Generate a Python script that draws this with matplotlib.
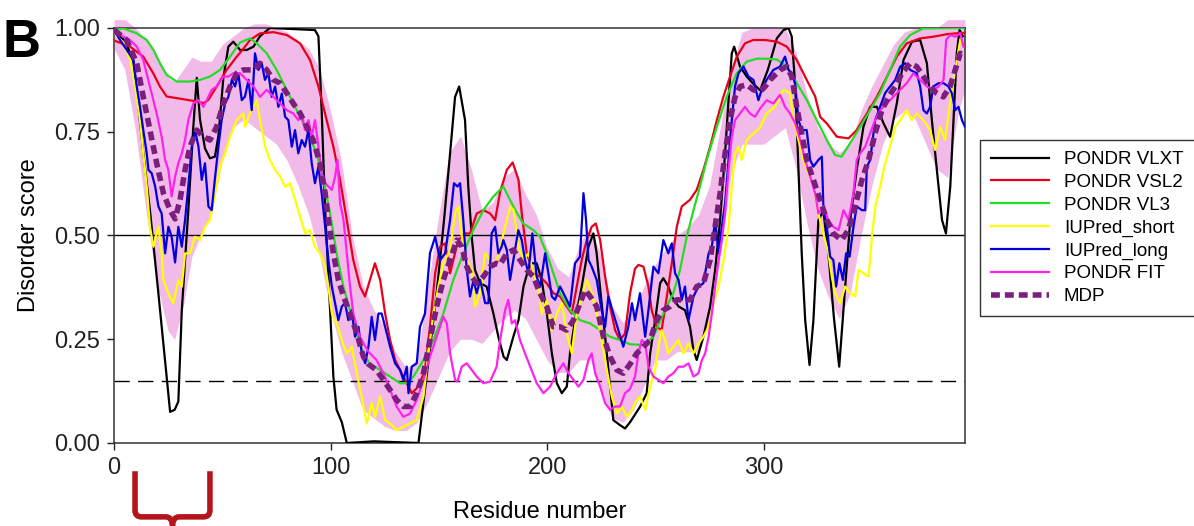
import numpy as np
import matplotlib.pyplot as plt
from matplotlib.path import Path
from matplotlib.patches import PathPatch
from matplotlib.transforms import blended_transform_factory

plt.rcParams['font.family'] = ['Liberation Sans', 'DejaVu Sans']

# (residue, score) points
vlxt = [(0,0.99),(5,0.97),(9,0.92),(13.5,0.70),(16.6,0.56),(20.5,0.36),(24.3,0.16),(25.9,0.075),(28,0.08),
        (29.7,0.10),(31.3,0.32),(34.3,0.56),(36.6,0.76),(38.2,0.88),(39.7,0.78),(42,0.71),(44.3,0.686),
        (46.6,0.69),(48.2,0.74),(50.5,0.88),(52.8,0.955),(55.1,0.967),(58.2,0.947),(61.3,0.947),(64.4,0.955),
        (67.4,0.98),(72,1.0),(92.8,0.995),(94.4,0.98),(95.9,0.80),(97.5,0.56),(99.8,0.32),(101.3,0.16),
        (102.8,0.08),(105.2,0.05),(107.5,0.0),(120,0.004),(140.6,0.0),(143.8,0.136),(149.3,0.377),(152.4,0.537),
        (155.2,0.698),(157.5,0.834),(159.4,0.859),(162.1,0.778),(163.6,0.618),(165.2,0.497),(166.7,0.417),
        (169.1,0.385),(172.1,0.377),(175.2,0.312),(177.5,0.256),(179.9,0.208),(181.4,0.2),(184.4,0.256),
        (186.8,0.296),(189.1,0.377),(192.1,0.433),(195.2,0.433),(197.5,0.393),(199.9,0.312),(202.2,0.216),
        (204.5,0.144),(206.8,0.12),(209.1,0.136),(210.6,0.216),(212.9,0.296),(216,0.377),(219.1,0.473),
        (221.4,0.505),(222.9,0.457),(224.4,0.377),(226.8,0.256),(229.1,0.136),(230.6,0.055),(233.7,0.043),
        (236,0.035),(238.3,0.05),(243,0.088),(246,0.12),(247.6,0.216),(249.9,0.296),(252.2,0.385),(253.7,0.397),
        (256,0.377),(257.6,0.353),(260.7,0.329),(263.7,0.32),(266,0.28),(267.6,0.224),(269.1,0.2),(272.2,0.256),
        (275.3,0.329),(277.6,0.417),(279.9,0.537),(282.2,0.698),(283.7,0.818),(285.3,0.939),(286.4,0.955),
        (289.1,0.907),(292.2,0.883),(295.3,0.865),(298.4,0.85),(302,0.9),(306.1,0.975),(309.2,0.995),
        (311.5,1.0),(313,0.979),(314.6,0.859),(316.1,0.658),(317.6,0.457),(319.2,0.296),(321.2,0.188),
        (323,0.296),(325.3,0.537),(327.6,0.56),(330,0.45),(332.5,0.30),(334.9,0.184),(337.7,0.377),(340,0.537),
        (343,0.658),(346.1,0.762),(349.2,0.81),(352.3,0.81),(355.4,0.77),(358.4,0.738),(361.5,0.818),
        (364.6,0.923),(368.5,0.967),(372.3,0.971),(375.4,0.915),(377.7,0.778),(380,0.658),(382.4,0.537),
        (384.2,0.505),(386.2,0.618),(387.7,0.778),(389.2,0.939),(390.5,0.995),(392,0.98)]

vsl2 = [(0,0.97),(7.4,0.955),(13.5,0.931),(18.2,0.89),(21.2,0.859),(24.3,0.835),(28.9,0.831),(33.6,0.827),
        (38.2,0.823),(41.3,0.819),(43.6,0.827),(47.4,0.859),(52,0.899),(56.7,0.931),(60.5,0.955),(62.8,0.971),
        (67.4,0.987),(73.6,0.99),(79.8,0.983),(85.9,0.963),(90.5,0.923),(94.4,0.859),(98.2,0.778),(101.3,0.714),
        (104.4,0.634),(107.5,0.537),(110.5,0.441),(113.6,0.377),(115.9,0.353),(118.2,0.393),(120.5,0.433),
        (122.9,0.393),(125.2,0.312),(127.5,0.248),(129.8,0.2),(132.1,0.176),(134.4,0.152),(137.5,0.12),
        (140.6,0.136),(143.6,0.176),(145.9,0.28),(148.3,0.409),(150.6,0.473),(152.9,0.481),(155.2,0.409),
        (156.7,0.441),(159,0.489),(162.1,0.505),(164.4,0.505),(167.5,0.553),(170.6,0.561),(173.7,0.553),
        (176,0.537),(178.3,0.605),(181.4,0.658),(184.1,0.676),(186.8,0.634),(188.3,0.553),(190.6,0.457),
        (193.7,0.409),(196.7,0.401),(199.8,0.385),(202.9,0.361),(206,0.353),(209,0.329),(211.4,0.312),
        (213.7,0.377),(216,0.441),(218.3,0.489),(220.6,0.521),(222.5,0.529),(224.5,0.489),(226.8,0.401),
        (229.1,0.329),(231.4,0.272),(233.7,0.248),(236,0.264),(238.3,0.36),(240.6,0.42),(242.2,0.429),
        (244.5,0.425),(246.8,0.377),(248.3,0.32),(250.6,0.28),(252.9,0.272),(255.3,0.353),(257.6,0.433),
        (259.9,0.521),(262.2,0.57),(266,0.586),(269.1,0.61),(272.2,0.658),(275.3,0.714),(278.4,0.778),
        (281.4,0.834),(284.5,0.883),(287.6,0.931),(291.4,0.963),(295.2,0.971),(300.7,0.971),(306.1,0.967),
        (310.7,0.955),(315.3,0.923),(319.9,0.875),(323.8,0.835),(326.1,0.786),(329.2,0.77),(333.8,0.738),
        (339.2,0.734),(343,0.754),(347.7,0.794),(352.3,0.834),(357,0.883),(361.5,0.931),(366.1,0.963),
        (372.3,0.975),(378.4,0.979),(384.6,0.985),(390.7,0.988),(393,0.988)]

vl3 = [(0,0.995),(4.3,0.999),(10.5,0.987),(15.1,0.971),(18.2,0.947),(21.2,0.915),(24.3,0.887),(28.9,0.871),
       (35.1,0.871),(39.7,0.875),(44.3,0.883),(49,0.899),(53.6,0.931),(58.2,0.965),(62.8,0.975),(65.9,0.963),
       (70.5,0.939),(75.1,0.899),(79.7,0.851),(84.4,0.802),(89,0.754),(93.6,0.698),(96.7,0.634),(99.8,0.553),
       (102.8,0.457),(105.9,0.377),(109,0.32),(112,0.264),(115.2,0.216),(118.2,0.19),(122.9,0.176),(127.5,0.16),
       (132.1,0.144),(135.2,0.144),(138.3,0.16),(142.9,0.2),(147.5,0.248),(152.1,0.312),(156.7,0.393),
       (161.3,0.457),(165.9,0.513),(170.6,0.561),(175.2,0.594),(179.8,0.618),(184.4,0.57),(188.9,0.529),
       (193.7,0.513),(196.7,0.497),(199.8,0.457),(202.9,0.409),(206,0.361),(210.6,0.32),(215.2,0.296),
       (219.9,0.288),(224.5,0.272),(229.1,0.256),(233.7,0.248),(238.3,0.238),(244.5,0.236),(249.1,0.256),
       (253.7,0.312),(258.3,0.361),(261.4,0.417),(264.5,0.497),(267.6,0.561),(270.6,0.618),(273.7,0.682),
       (278.4,0.762),(282.9,0.834),(287.6,0.891),(292.2,0.919),(296.9,0.926),(300.7,0.926),(306.1,0.924),
       (310.7,0.907),(315.3,0.867),(319.9,0.827),(324.5,0.778),(329.2,0.73),(333,0.694),(336,0.69),
       (339.9,0.722),(344.6,0.762),(349.2,0.802),(353.8,0.843),(358.4,0.899),(363,0.955),(367.7,0.983),
       (373.7,0.999),(393,1.0)]

iup_short = [(0,0.99),(4.3,0.963),(7.4,0.923),(9.7,0.859),(12,0.778),(13.5,0.698),(15.1,0.618),(16.6,0.521),
             (18.2,0.473),(20.5,0.521),(22,0.457),(22.8,0.393),(25.1,0.361),(27.4,0.337),(29.7,0.393),
             (31.3,0.377),(32.8,0.457),(35.1,0.457),(37.4,0.497),(39.7,0.489),(42,0.521),(44.3,0.537),
             (46.7,0.602),(49,0.666),(51.3,0.698),(53.6,0.738),(56.7,0.778),(59.7,0.794),(60.5,0.762),
             (62.1,0.786),(64.4,0.81),(65.9,0.826),(67.4,0.778),(69.8,0.714),(72,0.682),(74.4,0.658),
             (76.7,0.642),(79,0.618),(81.3,0.626),(83.6,0.586),(86,0.545),(88.3,0.505),(90.5,0.513),(92.8,0.473),
             (95.1,0.457),(97.5,0.425),(99,0.377),(100.6,0.312),(102.8,0.288),(105.2,0.248),(107.5,0.216),
             (109.8,0.232),(112.1,0.168),(114.4,0.111),(116.7,0.047),(119,0.096),(120.5,0.063),(122.9,0.112),
             (125.2,0.055),(127.5,0.047),(130.5,0.031),(133.6,0.039),(136.7,0.047),(139.8,0.055),(142.9,0.112),
             (145.2,0.216),(147.5,0.312),(149.8,0.377),(152.1,0.433),(155.2,0.465),(157.5,0.553),(159,0.57),
             (160.6,0.497),(162.9,0.441),(165.2,0.417),(166.7,0.329),(169.1,0.361),(171.4,0.457),(173.7,0.441),
             (176,0.425),(178.3,0.47),(180.6,0.521),(183,0.57),(184.5,0.561),(186.8,0.473),(189.1,0.441),
             (191.4,0.457),(193.7,0.409),(196,0.377),(197.6,0.312),(199.9,0.345),(202.2,0.272),(204.5,0.312),
             (206.8,0.337),(209.1,0.264),(211.4,0.216),(213.7,0.312),(216,0.353),(218.3,0.393),(220.6,0.361),
             (222.9,0.312),(225.2,0.248),(227.6,0.176),(229.9,0.112),(232.2,0.071),(234.5,0.088),(236.8,0.063),
             (239.2,0.08),(240.6,0.096),(242.9,0.112),(245.3,0.08),(247.6,0.136),(249.9,0.176),(251.4,0.232),
             (252.9,0.272),(254.5,0.248),(256,0.216),(258.3,0.232),(260.7,0.248),(263,0.216),(265.3,0.24),
             (267.6,0.216),(269.9,0.24),(272.2,0.256),(274.6,0.28),(276.9,0.337),(279.2,0.377),(281.5,0.441),
             (283.8,0.521),(285.3,0.618),(286.8,0.698),(288.4,0.714),(289.9,0.682),(292.2,0.73),(295.3,0.746),
             (298.4,0.76),(301.4,0.794),(305.2,0.81),(309.2,0.851),(312.2,0.843),(313.8,0.778),(316.1,0.73),
             (318.4,0.682),(320.7,0.65),(323.2,0.618),(325.3,0.553),(327.6,0.505),(329.9,0.457),(331.5,0.401),
             (333,0.361),(335.3,0.337),(337.7,0.377),(340,0.361),(342.3,0.353),(343.8,0.417),(346.1,0.409),
             (348.5,0.401),(350,0.497),(351.6,0.57),(353.8,0.618),(356.1,0.674),(358.4,0.714),(360.8,0.762),
             (363.1,0.778),(366.1,0.802),(368.4,0.778),(370.7,0.794),(373.8,0.778),(376.9,0.754),(379.2,0.706),
             (381.5,0.762),(383.8,0.73),(386.1,0.818),(388.5,0.899),(390.8,0.971)]

iup_long = [(0,0.995),(2.8,0.971),(5.9,0.947),(8.9,0.923),(10.5,0.859),(12,0.81),(13.5,0.754),(15.1,0.698),
            (15.9,0.658),(17.4,0.65),(19,0.618),(20.5,0.57),(22,0.553),(23.6,0.457),(25.1,0.521),(26.6,0.497),
            (28.2,0.435),(29.7,0.521),(31.3,0.473),(32.8,0.537),(34.3,0.618),(35.9,0.714),(37.4,0.754),
            (39,0.714),(40.5,0.634),(42,0.674),(43.6,0.57),(45.1,0.561),(46.7,0.642),(48.2,0.714),(49.7,0.778),
            (51.3,0.818),(52.8,0.834),(54.4,0.875),(55.9,0.859),(57.4,0.891),(59,0.826),(60.5,0.835),(62.1,0.875),
            (63.6,0.802),(65.1,0.939),(66.7,0.899),(68.2,0.915),(69.7,0.875),(71.3,0.891),(72.8,0.834),
            (74.4,0.859),(75.9,0.81),(77.5,0.842),(79,0.786),(80.5,0.778),(82.1,0.714),(83.6,0.754),(85.1,0.698),
            (86.7,0.73),(88.2,0.714),(89.8,0.754),(91.3,0.674),(92.8,0.626),(94.4,0.666),(95.9,0.602),
            (97.5,0.521),(99,0.441),(100.6,0.377),(102.1,0.337),(103.6,0.296),(105.2,0.329),(106.7,0.337),
            (108.2,0.296),(109.8,0.32),(111.3,0.256),(112.9,0.28),(114.4,0.216),(116,0.192),(117.5,0.232),
            (119,0.304),(120.5,0.248),(122.1,0.312),(123.6,0.312),(125.2,0.28),(127.5,0.232),(129.8,0.192),
            (132.1,0.176),(133.6,0.152),(135.2,0.184),(136,0.12),(137.5,0.184),(139.8,0.192),(141.3,0.28),
            (143.6,0.312),(145.9,0.457),(148.3,0.497),(150.6,0.441),(152.9,0.457),(155.2,0.537),(157,0.626),
            (158.6,0.618),(159.8,0.626),(161.3,0.537),(162.9,0.417),(164.4,0.353),(166,0.393),(167.5,0.361),
            (169.1,0.393),(171.4,0.337),(172.9,0.337),(174.4,0.505),(176,0.521),(177.5,0.457),(179,0.473),
            (179.8,0.489),(181.4,0.465),(182.9,0.393),(184.4,0.441),(186.7,0.513),(188.3,0.489),(189.8,0.441),
            (191.4,0.409),(193.2,0.505),(195.2,0.401),(196.8,0.377),(199.1,0.457),(200.6,0.409),(202.2,0.353),
            (203.7,0.345),(206,0.377),(208.3,0.353),(210.6,0.329),(212.9,0.433),(215.2,0.449),(216.8,0.602),
            (218,0.537),(219.1,0.441),(220.6,0.425),(222.9,0.393),(225.2,0.32),(226.8,0.28),(228.3,0.353),
            (230.6,0.312),(232.9,0.272),(235.2,0.232),(237.5,0.28),(239.2,0.337),(240.6,0.296),(242.9,0.361),
            (245.3,0.256),(246.8,0.32),(249.1,0.425),(251.4,0.409),(253.7,0.489),(256,0.457),(257.6,0.481),
            (259.1,0.409),(260.7,0.393),(262.2,0.345),(263.7,0.377),(265.3,0.296),(267.6,0.353),(269.9,0.377),
            (272.2,0.385),(274.6,0.457),(276.1,0.473),(277.6,0.537),(279.2,0.457),(280.7,0.521),(282.2,0.578),
            (283.8,0.682),(285.3,0.778),(286.8,0.859),(288.4,0.891),(290.7,0.907),(293,0.883),(295.3,0.875),
            (297.6,0.826),(299.1,0.851),(301.4,0.875),(304.5,0.899),(307.6,0.907),(309.9,0.931),(311.5,0.899),
            (313,0.891),(314.5,0.867),(316.1,0.778),(317.6,0.754),(319.9,0.754),(321.5,0.682),(323,0.666),
            (325.3,0.682),(326.9,0.69),(327.6,0.57),(329.2,0.521),(330.7,0.449),(332.2,0.441),(333.5,0.377),
            (335,0.433),(336.6,0.393),(338.1,0.457),(339.7,0.449),(341.5,0.521),(343,0.57),(345.4,0.561),
            (346.9,0.561),(347.7,0.666),(349.2,0.682),(351.5,0.778),(353.8,0.81),(356.1,0.843),(358.4,0.859),
            (360.8,0.875),(363.1,0.907),(365.4,0.915),(367.7,0.899),(370.7,0.891),(372.3,0.859),(373.8,0.802),
            (375.4,0.794),(376.9,0.81),(378.4,0.859),(380.8,0.867),(383.1,0.867),(385.4,0.859),(386.9,0.843),
            (388.5,0.802),(390,0.81),(391.6,0.778),(393,0.762)]

fit = [(0,0.995),(4.3,0.979),(7.4,0.971),(10.5,0.955),(13.5,0.923),(16.6,0.859),(19.7,0.794),(22,0.738),
       (23.6,0.682),(25.1,0.658),(26.6,0.594),(28.2,0.642),(29.7,0.674),(31.3,0.698),(32.8,0.73),(34.3,0.778),
       (36.6,0.818),(39,0.826),(41.3,0.81),(42.8,0.826),(45.1,0.851),(47.4,0.859),(50.5,0.883),(52.8,0.883),
       (55.1,0.891),(58.2,0.891),(61.3,0.875),(64.4,0.859),(67.4,0.834),(70.5,0.851),(73.6,0.834),(76.7,0.818),
       (79.8,0.802),(82.8,0.794),(85.1,0.778),(86.7,0.794),(88.2,0.754),(89.8,0.778),(91.3,0.738),(92.8,0.778),
       (94.4,0.714),(95.9,0.65),(97.5,0.626),(99,0.618),(100.6,0.61),(102.1,0.642),(103.2,0.682),(104.4,0.578),
       (106,0.537),(107.5,0.457),(109,0.377),(110.5,0.312),(112.9,0.264),(115.2,0.24),(117.5,0.22),
       (121.2,0.2),(124.4,0.168),(127.5,0.128),(130.5,0.088),(133.6,0.063),(136.7,0.071),(139.8,0.104),
       (142.9,0.152),(145.9,0.208),(149,0.256),(152.1,0.304),(153.7,0.288),(155.2,0.216),(157.5,0.152),
       (158.6,0.148),(160.6,0.184),(162.9,0.192),(165.2,0.176),(167.5,0.16),(170.6,0.144),(173.7,0.148),
       (176.7,0.184),(178.3,0.248),(180.6,0.32),(182.1,0.345),(183.7,0.288),(185.2,0.296),(187.5,0.248),
       (189.8,0.216),(192.2,0.184),(195.2,0.144),(198.3,0.12),(201.4,0.136),(204.4,0.168),(207.5,0.192),
       (209.9,0.168),(212.2,0.152),(214.5,0.136),(216.8,0.152),(219.1,0.2),(220.6,0.216),(222.2,0.168),
       (224.5,0.136),(226.8,0.096),(229.1,0.08),(231.4,0.088),(233.7,0.088),(236,0.12),(238.3,0.13),
       (240.6,0.16),(242.2,0.216),(243.7,0.248),(245.3,0.24),(246.8,0.184),(249.1,0.16),(251.4,0.152),
       (253.7,0.144),(256,0.16),(258.3,0.168),(260.7,0.184),(263,0.184),(265.3,0.192),(267.6,0.16),
       (269.9,0.168),(271.5,0.2),(273,0.216),(274.6,0.256),(276.1,0.312),(277.6,0.377),(279.2,0.441),
       (280.7,0.489),(282.2,0.553),(283.8,0.658),(285.3,0.738),(286.8,0.778),(289.1,0.794),(291.4,0.81),
       (293.7,0.794),(296,0.786),(298.4,0.806),(301.4,0.826),(304.5,0.818),(307.6,0.839),(309.9,0.81),
       (312.2,0.794),(314.6,0.77),(316.9,0.73),(319.2,0.682),(321.5,0.642),(323.8,0.602),(325.3,0.553),
       (327.6,0.57),(329.9,0.537),(332.2,0.521),(334.6,0.513),(336.9,0.561),(339.2,0.537),(341.5,0.602),
       (343,0.682),(344.6,0.698),(346.9,0.714),(349.2,0.746),(351.5,0.778),(353.8,0.802),(356.9,0.818),
       (359.9,0.834),(363,0.851),(366.1,0.867),(369.2,0.891),(372.3,0.875),(375.4,0.859),(378.4,0.851),
       (380.8,0.859),(383.1,0.875),(384.3,0.971),(386.1,0.983),(388.5,0.979),(390.8,0.987),(392.3,0.955)]

mdp = [(0,0.995),(5.9,0.971),(10.5,0.915),(13.5,0.834),(16.6,0.754),(19.7,0.674),(22.8,0.602),(25.9,0.561),
       (28.2,0.54),(30.5,0.586),(32.8,0.658),(35.1,0.714),(38.2,0.754),(41.3,0.738),(44.3,0.73),(47.4,0.762),
       (50.5,0.818),(53.6,0.859),(56.7,0.891),(59.7,0.899),(61.3,0.899),(64.4,0.899),(67.4,0.915),(70.5,0.899),
       (73.6,0.875),(76.7,0.867),(79.8,0.843),(82.8,0.818),(86,0.794),(89,0.762),(92,0.73),(95.1,0.674),
       (97.5,0.602),(99,0.537),(101.3,0.457),(103.6,0.393),(106,0.353),(109,0.312),(112.1,0.264),(115.2,0.208),
       (117.5,0.19),(121.2,0.176),(124.4,0.152),(127.5,0.128),(130.5,0.104),(133.6,0.088),(136.7,0.088),
       (139.8,0.12),(142.9,0.168),(145.9,0.248),(149,0.329),(152.1,0.393),(155.2,0.441),(158.3,0.489),
       (160.6,0.473),(162.9,0.425),(165.2,0.401),(167.5,0.385),(170.6,0.401),(173.7,0.425),(176.7,0.433),
       (178.3,0.43),(181.4,0.457),(184.4,0.465),(187.5,0.441),(190.6,0.417),(193.7,0.401),(196.7,0.361),
       (199.8,0.329),(202.9,0.28),(206,0.28),(209,0.272),(212.2,0.296),(215.2,0.337),(217.6,0.369),
       (219.9,0.353),(222.9,0.329),(226,0.256),(229.1,0.208),(232.2,0.176),(235.2,0.168),(238.3,0.19),
       (241.4,0.216),(244.5,0.232),(247.6,0.248),(250.6,0.296),(253.7,0.32),(256.8,0.329),(259.9,0.345),
       (263,0.345),(266,0.345),(269.1,0.377),(272.2,0.385),(275.3,0.441),(277.6,0.521),(279.9,0.602),
       (282.2,0.698),(284.5,0.778),(286.8,0.834),(289.1,0.859),(292.2,0.863),(295.3,0.851),(298.4,0.847),
       (300.7,0.859),(303,0.875),(307.6,0.899),(310.7,0.907),(313,0.883),(315.3,0.81),(317.6,0.746),
       (319.9,0.682),(323,0.634),(326.1,0.586),(329.2,0.537),(332.2,0.505),(336,0.489),(339.1,0.513),
       (342.2,0.57),(345.4,0.634),(348.5,0.682),(351.5,0.746),(354.6,0.802),(357.7,0.834),(360.8,0.859),
       (363.9,0.891),(367.7,0.915),(370.7,0.907),(373.8,0.883),(376.9,0.859),(379.9,0.843),(383,0.834),
       (386.1,0.859),(388.5,0.899),(390.8,0.939),(393,0.931)]

# MDP error band: residue, lower, upper
band_x = [0,5,10,15,20,25,28,32,36,40,45,50,55,60,65,70,75,80,85,90,95,100,105,110,115,120,125,130,135,
          140,145,150,155,160,165,170,175,180,185,190,195,200,205,210,215,220,225,230,235,240,245,250,255,
          260,265,270,275,280,285,290,295,300,305,310,315,320,325,330,335,340,345,350,355,360,365,370,375,
          380,385,390,393]
band_lo = [0.95,0.90,0.75,0.55,0.38,0.27,0.25,0.33,0.45,0.50,0.55,0.68,0.76,0.78,0.76,0.74,0.72,0.68,0.62,
           0.55,0.45,0.32,0.22,0.15,0.08,0.06,0.04,0.03,0.03,0.05,0.10,0.16,0.22,0.25,0.25,0.24,0.27,0.30,
           0.32,0.30,0.25,0.20,0.17,0.17,0.20,0.20,0.13,0.06,0.05,0.08,0.14,0.20,0.20,0.22,0.22,0.22,0.30,
           0.45,0.65,0.72,0.72,0.72,0.74,0.76,0.66,0.53,0.42,0.35,0.30,0.36,0.50,0.62,0.72,0.78,0.80,0.78,
           0.72,0.66,0.64,0.80,0.85]
band_hi = [1.02,1.02,1.0,0.97,0.93,0.88,0.87,0.90,0.93,0.92,0.92,0.96,0.98,1.0,1.01,1.01,1.0,0.99,0.97,
           0.95,0.90,0.80,0.68,0.50,0.38,0.32,0.28,0.22,0.18,0.20,0.38,0.55,0.70,0.74,0.66,0.56,0.58,0.64,
           0.66,0.60,0.55,0.47,0.42,0.40,0.48,0.52,0.45,0.33,0.29,0.32,0.38,0.43,0.47,0.50,0.52,0.55,0.62,
           0.76,0.90,0.99,1.0,1.0,1.0,1.0,0.94,0.84,0.76,0.72,0.70,0.72,0.80,0.86,0.91,0.96,0.99,1.0,1.0,
           1.0,1.02,1.02,1.02]

series = [("PONDR VLXT", vlxt, "black"),
          ("PONDR VSL2", vsl2, "#e8001a"),
          ("PONDR VL3", vl3, "#22dd22"),
          ("IUPred_short", iup_short, "#ffff00"),
          ("IUPred_long", iup_long, "#0000dd"),
          ("PONDR FIT", fit, "#ff22ee")]

bracket_from, bracket_to = 9.7, 44.3

fig = plt.figure(figsize=(11.94, 5.26), dpi=100)
ax = fig.add_axes([0.0955, 0.1578, 0.7127, 0.789])

ax.fill_between(band_x, band_lo, band_hi, color="#f2bae8", lw=0, clip_on=False, zorder=1)
ax.axhline(0.5, color="black", lw=1.0, zorder=2)
ax.axhline(0.15, color="black", lw=1.0, ls=(0, (11, 6)), zorder=2)

for name, pts, col in series:
    a = np.array(pts)
    ax.plot(a[:, 0], a[:, 1], color=col, lw=1.6, label=name, zorder=3)
m = np.array(mdp)
ax.plot(m[:, 0], m[:, 1], color="#7b1f7e", lw=4, ls=(0, (1.6, 0.9)), label="MDP", zorder=4)

ax.set_xlim(0, 393)
ax.set_ylim(0, 1)
ax.set_xticks([0, 100, 200, 300])
ax.set_yticks([0, 0.25, 0.5, 0.75, 1.0])
ax.set_yticklabels(["0.00", "0.25", "0.50", "0.75", "1.00"])
ax.tick_params(direction="out", length=5, width=1, labelsize=17, pad=5, colors="#222222")
for s in ax.spines.values():
    s.set_linewidth(1.1)
    s.set_color("#333333")
ax.set_xlabel("Residue number", fontsize=17, labelpad=16)
ax.set_ylabel("Disorder score", fontsize=17, labelpad=10)

leg = ax.legend(loc="upper left", bbox_to_anchor=(0.8125, 0.752), bbox_transform=fig.transFigure,
                fontsize=13.5, handlelength=3.1, labelspacing=0.3, borderpad=0.6,
                fancybox=False, framealpha=1, edgecolor="#333333")
leg.get_frame().set_linewidth(1.0)

# red brace under the N-terminal region
tr = blended_transform_factory(ax.transData, ax.transAxes)
xm = (bracket_from + bracket_to) / 2
ytop, yh, ytip, rx, ry = -0.068, -0.178, -0.25, 3.0, 0.016
left = Path([(bracket_from, ytop), (bracket_from, yh + ry), (bracket_from, yh), (bracket_from + rx, yh),
             (xm - rx, yh), (xm, yh), (xm, yh - ry * 1.5), (xm, ytip)],
            [Path.MOVETO, Path.LINETO, Path.CURVE3, Path.CURVE3, Path.LINETO, Path.CURVE3, Path.CURVE3, Path.LINETO])
right = Path([(bracket_to, ytop), (bracket_to, yh + ry), (bracket_to, yh), (bracket_to - rx, yh),
              (xm + rx, yh), (xm, yh), (xm, yh - ry * 1.5), (xm, ytip)],
             [Path.MOVETO, Path.LINETO, Path.CURVE3, Path.CURVE3, Path.LINETO, Path.CURVE3, Path.CURVE3, Path.LINETO])
for p in (left, right):
    ax.add_patch(PathPatch(p, transform=tr, fill=False, edgecolor="#b3151b", lw=4, clip_on=False,
                           capstyle="butt", joinstyle="round"))

fig.text(0.002, 0.892, "B", fontsize=38, fontweight="bold", ha="left", va="baseline")

fig.savefig("out.png", dpi=100)
